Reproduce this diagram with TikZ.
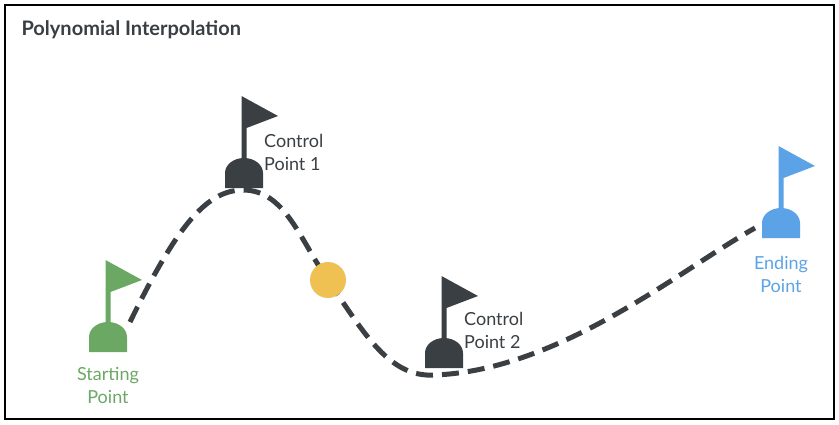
\documentclass[tikz,border=0pt]{standalone}
\usepackage{fontspec}
\setmainfont{Lato}
\definecolor{dark}{HTML}{3A3F44}
\definecolor{grn}{HTML}{6BA864}
\definecolor{blu}{HTML}{5BA3E6}
\definecolor{yel}{HTML}{EFC153}
\begin{document}
\begin{tikzpicture}[x=1pt,y=-1pt,
  curve/.style={draw=dark,line width=5pt,dash pattern=on 17pt off 9pt},
  lbl/.style={font=\fontsize{18}{23}\selectfont,align=center,inner sep=0pt},
  flag/.pic={
    \fill[pic actions] (-2.5,-92) -- (-2.5,-30) -- (2.5,-30) -- (2.5,-60) -- (34,-72) -- cycle;
    \fill[pic actions] (-19,0) -- (-19,-15) arc[start angle=180,end angle=0,x radius=19,y radius=-15] -- (19,0) -- cycle;
  }]
\useasboundingbox (0,0) rectangle (839,424);
\draw[line width=2pt] (5,5) rectangle (834,419);
\node[anchor=west,font=\bfseries\fontsize{20}{24}\selectfont,text=dark] (title) at (18,30) {Polynomial Interpolation};
\coordinate (s) at (130,322);
\coordinate (p1) at (243,190);
\coordinate (y) at (328,280);
\coordinate (p2) at (435,375);
\coordinate (e) at (755,228);
\draw[curve] (s) .. controls (175,230) and (205,190) .. (p1) .. controls (285,190) and (300,240) .. (y) .. controls (365,335) and (390,378) .. (p2) .. controls (560,370) and (680,270) .. (e);
\fill[yel] (y) circle (18);
\pic[fill=grn] at (108,352) {flag};
\pic[fill=dark] at (244,188) {flag};
\pic[fill=dark] at (444,368) {flag};
\pic[fill=blu] at (781,238) {flag};
\node[lbl,text=grn] (ls) at (108,385) {Starting\\Point};
\node[lbl,text=dark,align=left,anchor=west] (l1) at (264,152) {Control\\Point 1};
\node[lbl,text=dark,align=left,anchor=west] (l2) at (464,330) {Control\\Point 2};
\node[lbl,text=blu] (le) at (781,274) {Ending\\Point};
\end{tikzpicture}
\end{document}
